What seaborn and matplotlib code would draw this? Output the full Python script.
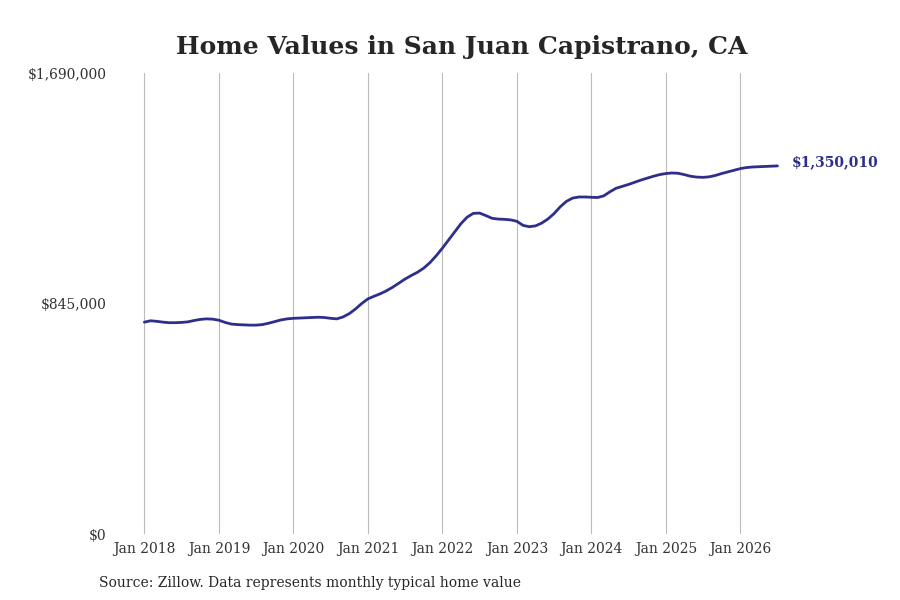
import matplotlib
matplotlib.use("Agg")
import matplotlib.pyplot as plt
import seaborn as sns
import pandas as pd

# monthly typical home value, Jan 2018 .. Jul 2026 (thousands of $)
values_2018 = [777, 782, 780, 777, 775, 775, 776, 778, 783, 787, 789, 788]
values_2019 = [784, 776, 770, 768, 767, 766, 766, 768, 773, 779, 785, 789]
values_2020 = [791, 792, 793, 794, 795, 794, 791, 789, 796, 808, 825, 845]
values_2021 = [862, 872, 881, 892, 905, 920, 935, 948, 960, 975, 995, 1020]
values_2022 = [1048, 1078, 1108, 1138, 1162, 1176, 1177, 1168, 1158, 1155, 1154, 1152]
values_2023 = [1147, 1132, 1127, 1130, 1140, 1155, 1175, 1200, 1220, 1232, 1236, 1236]
values_2024 = [1235, 1234, 1240, 1255, 1268, 1275, 1282, 1290, 1298, 1305, 1312, 1318]
values_2025 = [1322, 1324, 1323, 1318, 1312, 1309, 1308, 1310, 1315, 1322, 1328, 1334]
values_2026 = [1340, 1344, 1346, 1347, 1348, 1349, 1350.01]

tick_labels = ["Jan 2018", "Jan 2019", "Jan 2020", "Jan 2021", "Jan 2022",
               "Jan 2023", "Jan 2024", "Jan 2025", "Jan 2026"]
y_ticks = [0, 845000, 1690000]
y_tick_labels = ["$0", "$845,000", "$1,690,000"]
last_label = "$1,350,010"

all_vals = (values_2018 + values_2019 + values_2020 + values_2021 + values_2022
            + values_2023 + values_2024 + values_2025 + values_2026)
df = pd.DataFrame({"month": range(len(all_vals)),
                   "value": [v * 1000 for v in all_vals]})

color = "#2e2e8c"
sns.set_style("white")
plt.rcParams["font.family"] = ["DejaVu Serif"]

fig = plt.figure(figsize=(9, 6), dpi=100)
ax = fig.add_axes([0.128, 0.11, 0.76, 0.768])
sns.lineplot(data=df, x="month", y="value", color=color, linewidth=2, ax=ax)

ax.set_xlim(-4.7, 105.5)
ax.set_ylim(0, 1690000)
ax.set_xticks(range(0, 97, 12))
ax.set_xticklabels(tick_labels, fontsize=10, color="#333333")
ax.set_yticks(y_ticks)
ax.set_yticklabels(y_tick_labels, fontsize=10, color="#333333")
ax.tick_params(length=0, pad=6)
ax.grid(axis="x", color="#bbbbbb", linewidth=0.8)
ax.grid(axis="y", visible=False)
for s in ax.spines.values():
    s.set_visible(False)
ax.set_xlabel("")
ax.set_ylabel("")

ax.annotate(last_label, (df["month"].iloc[-1], df["value"].iloc[-1]),
            xytext=(10, 3), textcoords="offset points", va="center",
            fontsize=10, fontweight="bold", color=color, annotation_clip=False)

fig.text(0.513, 0.91, "Home Values in San Juan Capistrano, CA", ha="center",
         fontsize=18, fontweight="bold")
fig.text(0.11, 0.022, "Source: Zillow. Data represents monthly typical home value",
         fontsize=10)

fig.savefig("out.png", dpi=100)
